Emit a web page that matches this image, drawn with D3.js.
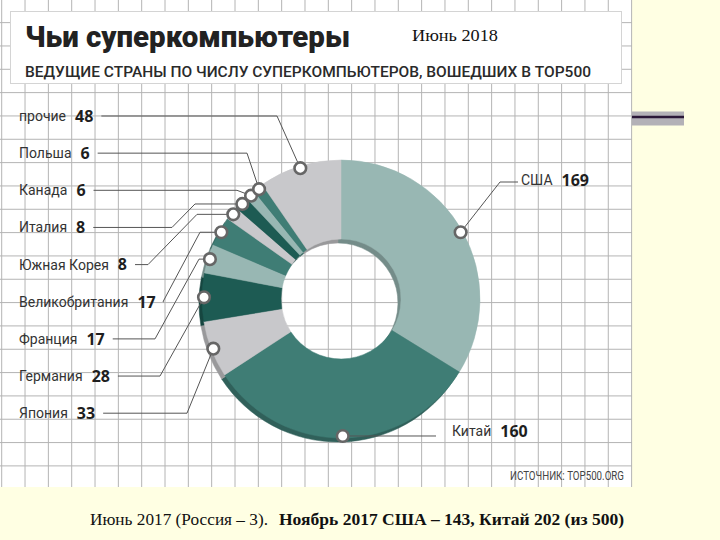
<!DOCTYPE html>
<html><head><meta charset="utf-8">
<script src="https://cdn.jsdelivr.net/npm/d3@7"></script>
<style>html,body{margin:0;padding:0;background:#FFFFE3;} svg{display:block;}</style>
</head><body><svg id="c" width="720" height="540"></svg>
<script>
// ---------- data ----------
const countries = ["США","Китай","Япония","Германия","Франция","Великобритания","Южная Корея","Италия","Канада","Польша","прочие"];
const counts    = [169, 160, 33, 28, 17, 17, 8, 8, 6, 6, 48];
const leftLabelOrder = ["прочие","Польша","Канада","Италия","Южная Корея","Великобритания","Франция","Германия","Япония"];
const rightLabelOrder = ["США","Китай"];
const titleText = "Чьи суперкомпьютеры";
const subtitleText = "ВЕДУЩИЕ СТРАНЫ ПО ЧИСЛУ СУПЕРКОМПЬЮТЕРОВ, ВОШЕДШИХ В TOP500";
const dateText = "Июнь 2018";
const sourceText = "ИСТОЧНИК: TOP500.ORG";
const noteRegular = "Июнь 2017  (Россия – 3).";
const noteBold = "Ноябрь 2017 США – 143, Китай 202 (из 500)";

// ---------- styles / layout ----------
const LIGHT = "#98b7b3", MID = "#3f7d75", GRAY = "#c8c8cb", DARK = "#1d5b53";
const sliceColor = {"США":LIGHT,"Китай":MID,"Япония":GRAY,"Германия":DARK,"Франция":LIGHT,
  "Великобритания":MID,"Южная Корея":GRAY,"Италия":DARK,"Канада":LIGHT,"Польша":MID,"прочие":GRAY};
const cx = 341, cy = 299, rOut = 139, rIn = 60;
// leader layout for left labels: elbow x of horizontal part, optional knee x (at marker height)
const leftLeader = {
  "прочие":{ex:277}, "Польша":{ex:247}, "Канада":{ex:237},
  "Италия":{ex:172,kx:195}, "Южная Корея":{ex:148,kx:197}, "Великобритания":{ex:163,kx:200},
  "Франция":{ex:155,kx:199}, "Германия":{ex:160}, "Япония":{ex:187}
};

const svg = d3.select("#c");
svg.append("rect").attr("width",720).attr("height",540).attr("fill","#FFFFE3");

// chart picture area
const pic = svg.append("g");
pic.append("rect").attr("x",0).attr("y",0).attr("width",632).attr("height",487).attr("fill","#ffffff");
const gx = d3.range(1.7, 632, 23.33), gy = d3.range(-0.7, 487, 23.33);
pic.selectAll("line.v").data(gx).join("line").attr("class","v")
  .attr("x1",d=>d).attr("x2",d=>d).attr("y1",0).attr("y2",487)
  .attr("stroke","#b4b4b4").attr("stroke-width",1);
pic.selectAll("line.h").data(gy).join("line").attr("class","h")
  .attr("y1",d=>d).attr("y2",d=>d).attr("x1",0).attr("x2",632)
  .attr("stroke","#b4b4b4").attr("stroke-width",1);

// title panel
pic.append("rect").attr("x",10.5).attr("y",11.5).attr("width",611).attr("height",72)
  .attr("fill","#ffffff").attr("stroke","#d4d4d4").attr("stroke-width",1);
pic.append("text").text(titleText).attr("x",25).attr("y",47)
  .attr("font-family","Roboto, 'Open Sans', sans-serif").attr("font-weight",900)
  .attr("font-size",29).attr("fill","#222")
  .attr("textLength",325).attr("lengthAdjust","spacingAndGlyphs");
pic.append("text").text(subtitleText).attr("x",25).attr("y",76.5)
  .attr("font-family","Roboto, 'Open Sans', sans-serif").attr("font-weight",500)
  .attr("font-size",14.5).attr("fill","#2a2a2a")
  .attr("textLength",566).attr("lengthAdjust","spacingAndGlyphs");
svg.append("text").text(dateText).attr("x",412).attr("y",41)
  .attr("font-family","'Liberation Serif', 'Times New Roman', serif")
  .attr("font-size",17).attr("fill","#111")
  .attr("textLength",86).attr("lengthAdjust","spacingAndGlyphs");

// donut
const data = countries.map((c,i)=>({country:c, count:counts[i]}));
const pie = d3.pie().sort(null).value(d=>d.count).startAngle(0).endAngle(2*Math.PI);
const arcs = pie(data);
const arc = d3.arc().innerRadius(rIn).outerRadius(rOut);
const shadow = pic.append("g").attr("transform",`translate(${cx-3},${cy+4})`);
shadow.selectAll("path").data(arcs).join("path").attr("d",arc)
  .attr("fill",d=>d3.color(sliceColor[d.data.country]).darker(0.75))
  .attr("stroke",d=>d3.color(sliceColor[d.data.country]).darker(0.75)).attr("stroke-width",0.5);
const main = pic.append("g").attr("transform",`translate(${cx},${cy})`);
main.selectAll("path").data(arcs).join("path").attr("d",arc)
  .attr("fill",d=>sliceColor[d.data.country])
  .attr("stroke",d=>sliceColor[d.data.country]).attr("stroke-width",0.5);

const markerArc = d3.arc().innerRadius(rOut-2).outerRadius(rOut-2);
const markerPos = {};
arcs.forEach(d=>{ const p = markerArc.centroid(d); markerPos[d.data.country] = [cx+p[0], cy+p[1]]; });

// labels
const nameFont = "Roboto, 'Open Sans', sans-serif";
const numFont = "'Open Sans', Roboto, sans-serif";
const lines = pic.append("g").attr("fill","none").attr("stroke","#555").attr("stroke-width",1);
const labels = pic.append("g");
function addLabel(name, x, y){
  const t = labels.append("text").text(name).attr("x",x).attr("y",y).attr("dy","0.35em")
    .attr("font-family",nameFont).attr("font-size",14).attr("fill","#333");
  const w = t.node().getComputedTextLength();
  const v = counts[countries.indexOf(name)];
  const n = labels.append("text").text(v).attr("x",x+w+9).attr("y",y).attr("dy","0.36em")
    .attr("font-family",numFont).attr("font-weight",700).attr("font-size",16).attr("fill","#1e1e1e");
  return x + w + 9 + n.node().getComputedTextLength();
}
leftLabelOrder.forEach((name,i)=>{
  const y = 116 + 37.15*i;
  const end = addLabel(name, 19, y);
  const m = markerPos[name], L = leftLeader[name];
  const pts = [[end+8,y],[L.ex,y]];
  if (L.kx !== undefined) pts.push([L.kx, m[1]]);
  pts.push(m);
  lines.append("path").attr("d", d3.line()(pts));
});
// right labels
{
  const m = markerPos["США"];
  lines.append("path").attr("d", d3.line()([m,[500,182],[518,182]]));
  addLabel("США", 521, 180);
  const k = markerPos["Китай"];
  lines.append("path").attr("d", d3.line()([k,[436,k[1]]]));
  addLabel("Китай", 452, 431);
}
// markers
pic.append("g").selectAll("circle").data(arcs).join("circle")
  .attr("cx",d=>markerPos[d.data.country][0]).attr("cy",d=>markerPos[d.data.country][1])
  .attr("r",5.8).attr("fill","#fff").attr("stroke","#666").attr("stroke-width",2.6);

pic.append("text").text(sourceText).attr("x",510).attr("y",480)
  .attr("font-family",nameFont).attr("font-size",12).attr("fill","#444")
  .attr("textLength",114).attr("lengthAdjust","spacingAndGlyphs");

// right decoration bar
svg.append("rect").attr("x",632).attr("y",111.5).attr("width",52).attr("height",14).attr("fill","#b3b1b7");
svg.append("line").attr("x1",632).attr("x2",684).attr("y1",117).attr("y2",117)
  .attr("stroke","#2b1838").attr("stroke-width",2.5);

// bottom note
const serif = "'Liberation Serif', 'Times New Roman', serif";
svg.append("text").text(noteRegular).attr("x",90).attr("y",525)
  .attr("font-family",serif).attr("font-size",17).attr("fill","#111")
  .attr("textLength",178).attr("lengthAdjust","spacingAndGlyphs");
svg.append("text").text(noteBold).attr("x",279).attr("y",525)
  .attr("font-family",serif).attr("font-weight",700).attr("font-size",17).attr("fill","#111")
  .attr("textLength",345).attr("lengthAdjust","spacingAndGlyphs");
</script></body></html>
